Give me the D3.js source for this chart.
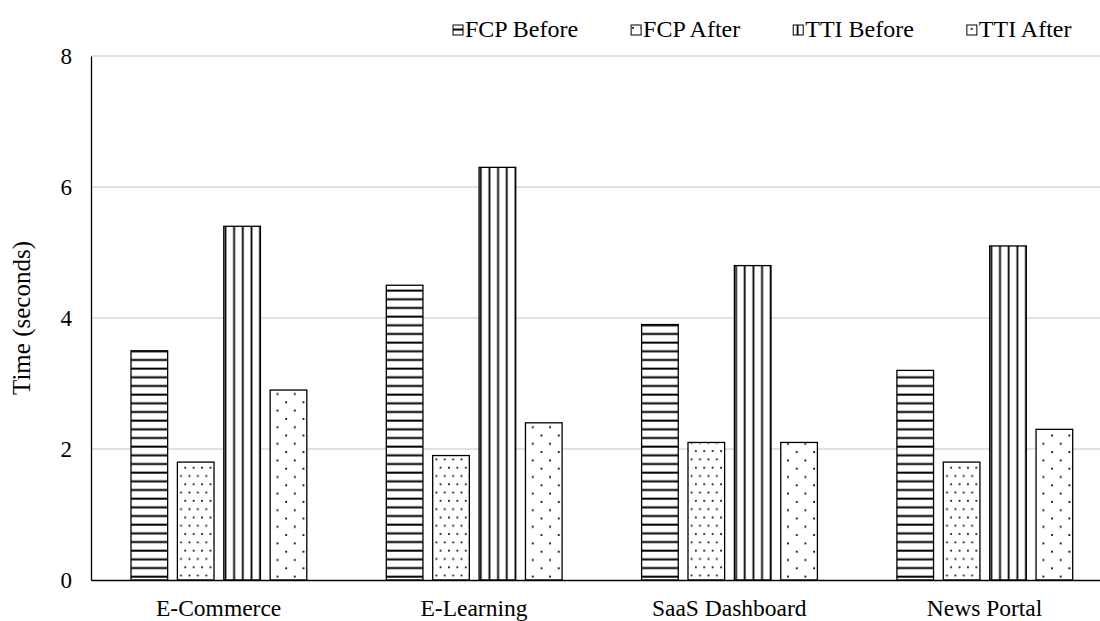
<!DOCTYPE html>
<html>
<head>
<meta charset="utf-8">
<script src="https://cdn.jsdelivr.net/npm/d3@7"></script>
<style>
  body { margin: 0; background: #fff; }
  svg text { font-family: "Liberation Serif", "Times New Roman", serif; fill: #000; }
</style>
</head>
<body>
<div id="chart"></div>
<script>
// chart data
const categories = ['E-Commerce', 'E-Learning', 'SaaS Dashboard', 'News Portal'];
const seriesNames = ['FCP Before', 'FCP After', 'TTI Before', 'TTI After'];
const fcpBefore = [3.5, 4.5, 3.9, 3.2];
const fcpAfter = [1.8, 1.9, 2.1, 1.8];
const ttiBefore = [5.4, 6.3, 4.8, 5.1];
const ttiAfter = [2.9, 2.4, 2.1, 2.3];
const yTicks = [0, 2, 4, 6, 8];

const seriesValues = [fcpBefore, fcpAfter, ttiBefore, ttiAfter];
const patternIds = ['p-hstripe', 'p-dense-dots', 'p-vstripe', 'p-sparse-dots'];

const W = 1100, H = 621;
const margin = { top: 56, left: 91, bottom: 41 };
const plotBottom = H - margin.bottom;
const bandStep = 255.3;

const svg = d3.select('#chart')
  .append('svg')
  .attr('width', W)
  .attr('height', H);

// fill patterns, like the Excel hatch fills
const defs = svg.append('defs');

let hs = defs.append('pattern').attr('id', 'p-hstripe')
  .attr('patternUnits', 'userSpaceOnUse')
  .attr('width', 10).attr('height', 8.67);
hs.append('rect').attr('width', 10).attr('height', 8.67).attr('fill', '#fff');
hs.append('rect').attr('y', 3.5).attr('width', 10).attr('height', 2).attr('fill', '#000');

let vs = defs.append('pattern').attr('id', 'p-vstripe')
  .attr('patternUnits', 'userSpaceOnUse')
  .attr('width', 8.67).attr('height', 10);
vs.append('rect').attr('width', 8.67).attr('height', 10).attr('fill', '#fff');
vs.append('rect').attr('x', 3.5).attr('width', 1.8).attr('height', 10).attr('fill', '#000');

let dd = defs.append('pattern').attr('id', 'p-dense-dots')
  .attr('patternUnits', 'userSpaceOnUse')
  .attr('width', 8.4).attr('height', 16.6);
dd.append('rect').attr('width', 8.4).attr('height', 16.6).attr('fill', '#fff');
dd.append('rect').attr('x', 1).attr('y', 2).attr('width', 1.7).attr('height', 1.7).attr('fill', '#000');
dd.append('rect').attr('x', 5.2).attr('y', 10.3).attr('width', 1.7).attr('height', 1.7).attr('fill', '#000');

let sd = defs.append('pattern').attr('id', 'p-sparse-dots')
  .attr('patternUnits', 'userSpaceOnUse')
  .attr('width', 17.3).attr('height', 16.6);
sd.append('rect').attr('width', 17.3).attr('height', 16.6).attr('fill', '#fff');
sd.append('rect').attr('x', 4).attr('y', 3).attr('width', 1.8).attr('height', 1.8).attr('fill', '#000');
sd.append('rect').attr('x', 12.6).attr('y', 11.3).attr('width', 1.8).attr('height', 1.8).attr('fill', '#000');

// scales
const x0 = d3.scaleBand()
  .domain(categories)
  .range([margin.left, margin.left + bandStep * categories.length]);

const x1 = d3.scaleBand()
  .domain(seriesNames)
  .range([40, 215.8])
  .paddingInner(0.21);

const y = d3.scaleLinear()
  .domain([0, 8])
  .range([plotBottom, margin.top]);

// gridlines
svg.append('g')
  .selectAll('line')
  .data(yTicks.filter(d => d > 0))
  .join('line')
  .attr('x1', margin.left).attr('x2', W)
  .attr('y1', d => y(d)).attr('y2', d => y(d))
  .attr('stroke', '#d9d9d9')
  .attr('stroke-width', 1.3);

// bars
const groups = svg.append('g')
  .selectAll('g')
  .data(categories)
  .join('g')
  .attr('transform', d => `translate(${x0(d)},0)`);

groups.selectAll('rect')
  .data((c, ci) => seriesNames.map((s, si) => ({ s, si, v: seriesValues[si][ci] })))
  .join('rect')
  .attr('x', d => x1(d.s))
  .attr('y', d => y(d.v))
  .attr('width', x1.bandwidth())
  .attr('height', d => plotBottom - y(d.v))
  .attr('fill', d => `url(#${patternIds[d.si]})`)
  .attr('stroke', '#000')
  .attr('stroke-width', 1.3);

// y axis
const yAxis = d3.axisLeft(y).tickValues(yTicks).tickSize(0).tickPadding(19);
const yg = svg.append('g')
  .attr('transform', `translate(${margin.left},0)`)
  .call(yAxis);
yg.select('.domain').attr('stroke', '#000').attr('stroke-width', 1.3);
yg.selectAll('text')
  .style('font-family', '"Liberation Serif", serif')
  .style('font-size', '23px');

// x axis
const xAxis = d3.axisBottom(x0).tickSize(0).tickPadding(19);
const xg = svg.append('g')
  .attr('transform', `translate(0,${plotBottom})`)
  .call(xAxis);
xg.select('.domain').attr('stroke', '#000').attr('stroke-width', 1.3);
xg.selectAll('text')
  .style('font-family', '"Liberation Serif", serif')
  .style('font-size', '23.5px');

// y title
svg.append('text')
  .attr('transform', `translate(30,${(margin.top + plotBottom) / 2}) rotate(-90)`)
  .attr('text-anchor', 'middle')
  .style('font-size', '25px')
  .text('Time (seconds)');

// legend
const legend = svg.append('g').attr('class', 'legend');
let lx = 453;
seriesNames.forEach((name, i) => {
  let item = legend.append('g').attr('transform', `translate(${lx},25)`);
  item.append('rect')
    .attr('width', 10).attr('height', 10)
    .attr('fill', `url(#${patternIds[i]})`)
    .attr('stroke', '#000').attr('stroke-width', 1);
  let t = item.append('text')
    .attr('x', 12).attr('y', 11.5)
    .style('font-size', '24px')
    .text(name);
  lx += 12 + t.node().getComputedTextLength() + 53;
});
</script>
</body>
</html>
